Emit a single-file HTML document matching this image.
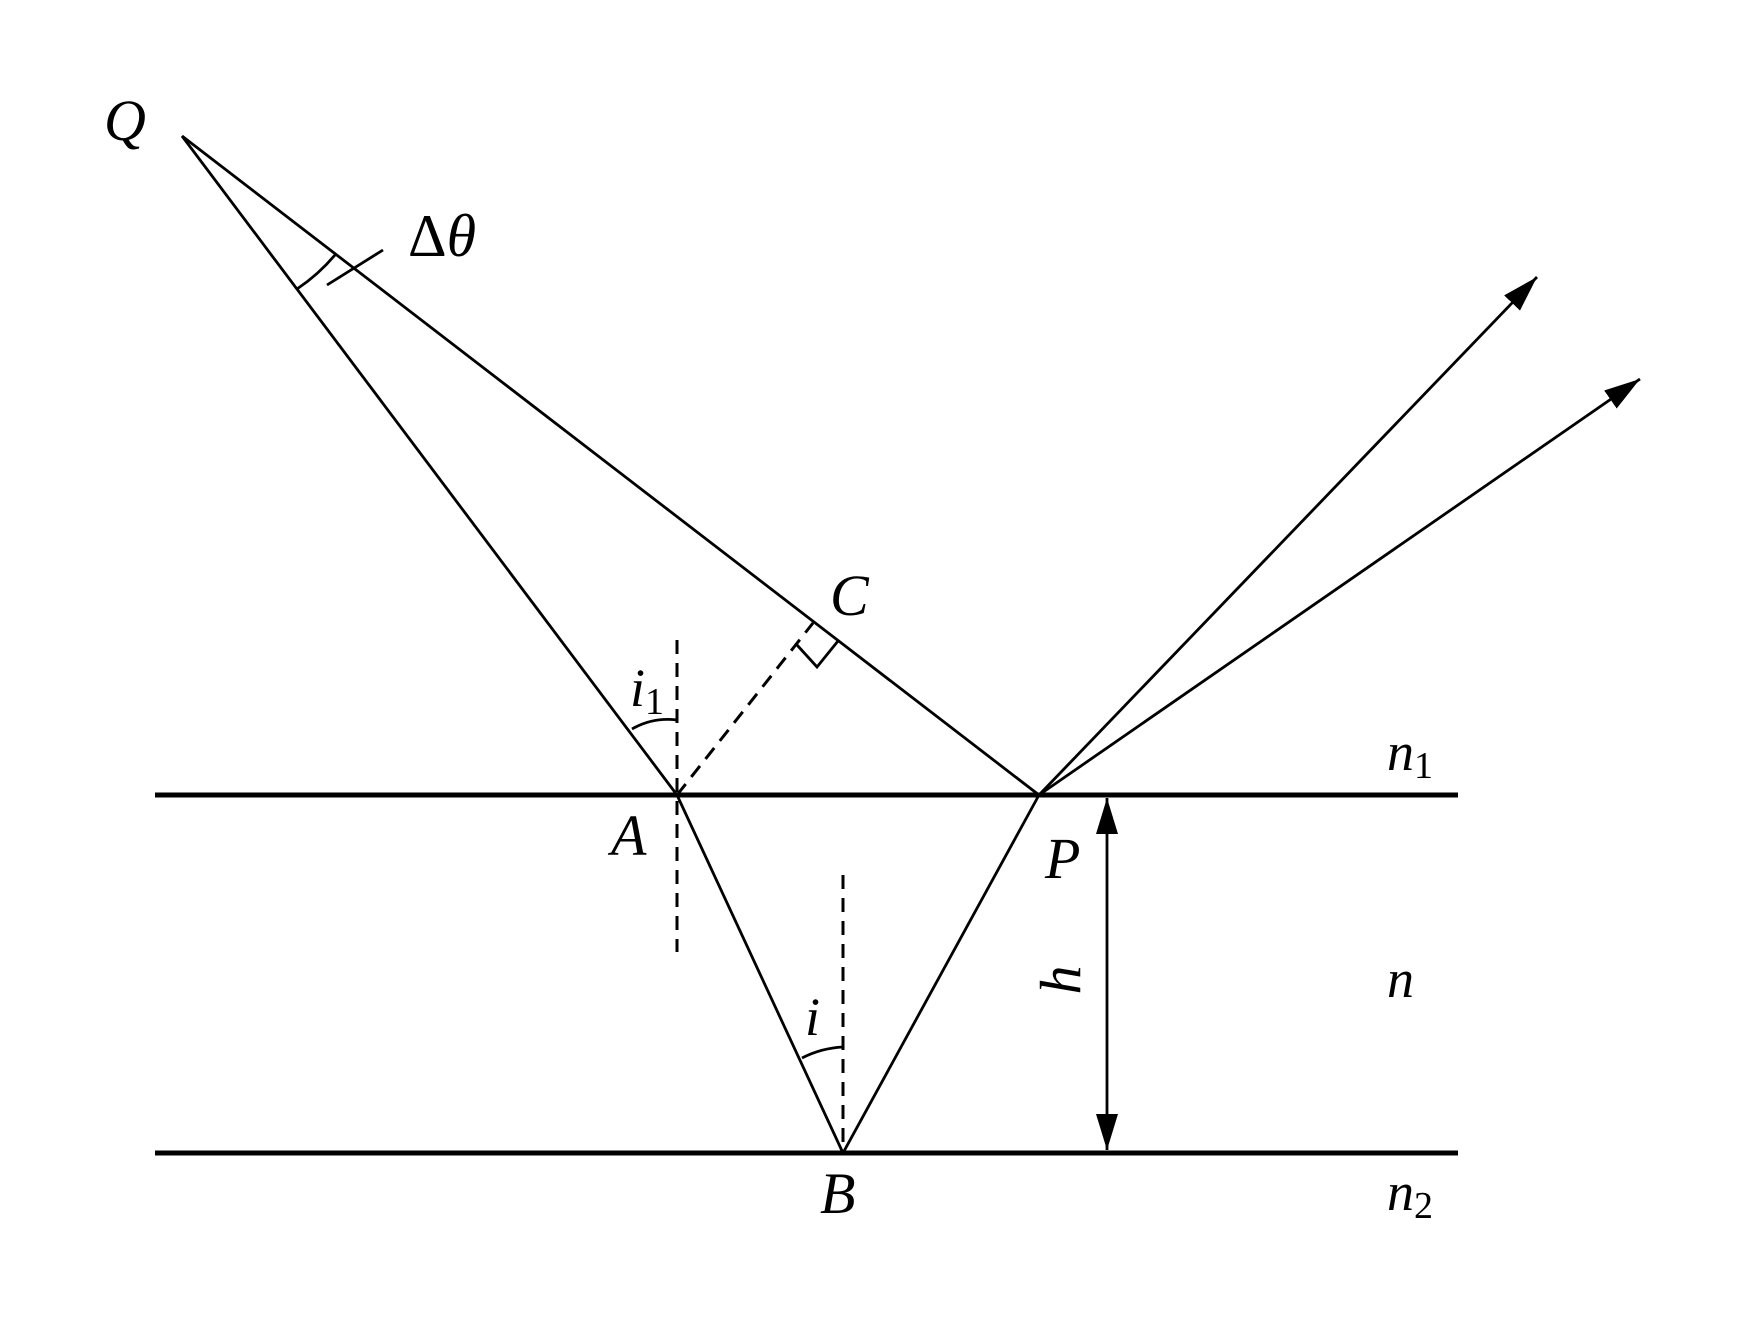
<!DOCTYPE html>
<html><head><style>html,body{margin:0;padding:0;background:#fff}svg{display:block}
text{font-family:"Liberation Serif",serif;fill:#000}</style></head>
<body>
<svg width="1738" height="1330" viewBox="0 0 1738 1330" xmlns="http://www.w3.org/2000/svg">
<defs>
<marker id="ah2" viewBox="0 0 36 22" refX="36" refY="11" markerWidth="36" markerHeight="22" markerUnits="userSpaceOnUse" orient="auto-start-reverse">
<path d="M0,0 L36,11 L0,22 z" fill="#000"/></marker>
</defs>
<g stroke="#000" fill="none">
<line x1="155" y1="795" x2="1458" y2="795" stroke-width="5"/>
<line x1="155" y1="1153" x2="1458" y2="1153" stroke-width="5"/>
<line x1="182" y1="136" x2="677" y2="795" stroke-width="2.8"/>
<line x1="182" y1="136" x2="1039" y2="795" stroke-width="2.8"/>
<line x1="677" y1="795" x2="843" y2="1153" stroke-width="2.8"/>
<line x1="843" y1="1153" x2="1039" y2="795" stroke-width="2.8"/>
<line x1="1039" y1="795" x2="1537" y2="277" stroke-width="2.8" marker-end="url(#ah2)"/>
<line x1="1039" y1="795" x2="1640" y2="379" stroke-width="2.8" marker-end="url(#ah2)"/>
<line x1="677" y1="795" x2="813" y2="623" stroke-width="3" stroke-dasharray="14,9"/>
<line x1="677" y1="640" x2="677" y2="952" stroke-width="3" stroke-dasharray="14,9"/>
<line x1="843" y1="875" x2="843" y2="1153" stroke-width="3" stroke-dasharray="14,9"/>
<polyline points="797,645 817,667 838,641" stroke-width="2.8"/>
<path d="M632,729 A72,72 0 0 1 677,720" stroke-width="2.8"/>
<path d="M802,1058 A100,100 0 0 1 843,1047" stroke-width="2.8"/>
<path d="M297,289 A185,185 0 0 0 335,255" stroke-width="2.8"/>
<line x1="327" y1="285" x2="383" y2="250" stroke-width="2.8"/>
<line x1="1107" y1="798" x2="1107" y2="1150" stroke-width="2.8" marker-start="url(#ah2)" marker-end="url(#ah2)"/>
</g>
<g style="font-style:italic">
<text x="104" y="140" font-size="58">Q</text>
<text x="830" y="615" font-size="58">C</text>
<text x="630" y="706" font-size="54">i<tspan font-size="38" style="font-style:normal" dy="8">1</tspan></text>
<text x="611" y="855" font-size="58">A</text>
<text x="1045" y="878" font-size="58">P</text>
<text x="805" y="1035" font-size="54">i</text>
<text x="820" y="1213" font-size="58">B</text>
<text transform="translate(1080,980) rotate(-90)" text-anchor="middle" font-size="58">h</text>
<text x="1387" y="770" font-size="54">n<tspan font-size="38" style="font-style:normal" dy="8">1</tspan></text>
<text x="1387" y="997" font-size="54">n</text>
<text x="1387" y="1210" font-size="54">n<tspan font-size="38" style="font-style:normal" dy="8">2</tspan></text>
</g>
<text x="408" y="256" font-size="60" style="font-style:normal">Δ<tspan style="font-style:italic">θ</tspan></text>
</svg>
</body></html>
